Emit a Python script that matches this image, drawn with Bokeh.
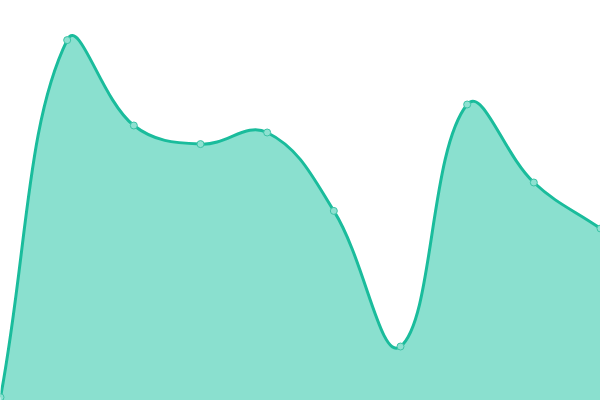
from bokeh.plotting import figure
from bokeh.models import Range1d
from bokeh.embed import file_html
from bokeh.resources import INLINE

# data
categories = list(range(10))
values = [0.8, 90.1, 68.75, 64.1, 67.0, 47.4, 13.5, 74.0, 54.5, 43.0]

W, H = 600, 400
X_MAX = len(categories) - 1
Y_MAX = 100.0
TENSION = 0.4

p = figure(width=W, height=H, output_backend="svg", toolbar_location=None,
           x_range=Range1d(0, X_MAX), y_range=Range1d(0, Y_MAX), min_border=0)
p.axis.visible = False
p.grid.visible = False
p.outline_line_color = None
p.background_fill_color = "white"

# screen-space points (y downward)
sx = [c / X_MAX * W for c in categories]
sy = [H - v / Y_MAX * H for v in values]
n = len(sx)

def clamp(v, lo, hi):
    return max(lo, min(hi, v))

cp_prev, cp_next = [], []
for i in range(n):
    pi = max(i - 1, 0)
    ni = min(i + 1, n - 1)
    d01 = ((sx[i] - sx[pi]) ** 2 + (sy[i] - sy[pi]) ** 2) ** 0.5
    d12 = ((sx[ni] - sx[i]) ** 2 + (sy[ni] - sy[i]) ** 2) ** 0.5
    tot = d01 + d12
    s01 = d01 / tot if tot else 0
    s12 = d12 / tot if tot else 0
    fa, fb = TENSION * s01, TENSION * s12
    dx, dy = sx[ni] - sx[pi], sy[ni] - sy[pi]
    cp_prev.append((clamp(sx[i] - fa * dx, 0, W), clamp(sy[i] - fa * dy, 0, H)))
    cp_next.append((clamp(sx[i] + fb * dx, 0, W), clamp(sy[i] + fb * dy, 0, H)))

def to_data(px, py):
    return px / W * X_MAX, (H - py) / H * Y_MAX

x0, y0, x1, y1, cx0, cy0, cx1, cy1 = [], [], [], [], [], [], [], []
fx, fy = [], []
for i in range(n - 1):
    a = to_data(sx[i], sy[i]); b = to_data(sx[i + 1], sy[i + 1])
    c0 = to_data(*cp_next[i]); c1 = to_data(*cp_prev[i + 1])
    x0.append(a[0]); y0.append(a[1]); x1.append(b[0]); y1.append(b[1])
    cx0.append(c0[0]); cy0.append(c0[1]); cx1.append(c1[0]); cy1.append(c1[1])
    steps = 40
    for k in range(steps + (1 if i == n - 2 else 0)):
        t = k / steps
        mt = 1 - t
        fx.append(mt**3 * a[0] + 3 * mt**2 * t * c0[0] + 3 * mt * t**2 * c1[0] + t**3 * b[0])
        fy.append(mt**3 * a[1] + 3 * mt**2 * t * c0[1] + 3 * mt * t**2 * c1[1] + t**3 * b[1])

# filled area down to the baseline
px_ = [fx[0]] + fx + [fx[-1]]
py_ = [0] + fy + [0]
p.patch(px_, py_, fill_color="#8ae0cf", line_color=None)

p.bezier(x0=x0, y0=y0, x1=x1, y1=y1, cx0=cx0, cy0=cy0, cx1=cx1, cy1=cy1,
         line_color="#1abc9c", line_width=3)

p.scatter(categories, values, size=7, fill_color="#8ee1d1",
          line_color="#3cc3a6", line_width=1)

open("out.html", "w").write(file_html(p, INLINE))
